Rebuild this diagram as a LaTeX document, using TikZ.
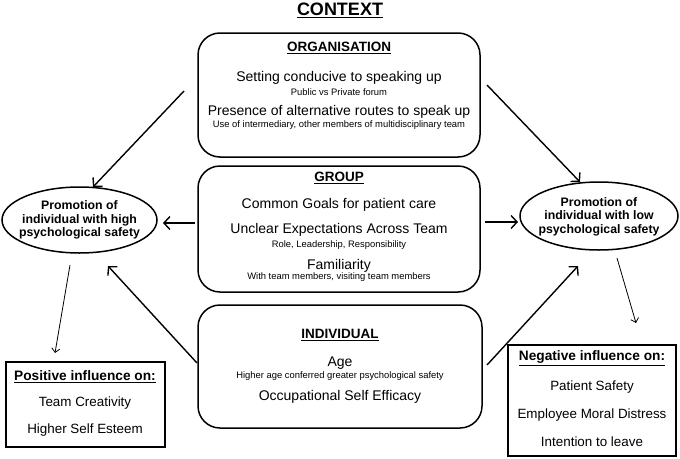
\documentclass[tikz,border=0pt]{standalone}
\usepackage{fontspec}
\setmainfont{Liberation Sans}
\usetikzlibrary{arrows.meta,shapes.geometric}
\begin{document}
\begin{tikzpicture}[x=1pt,y=-1pt,
  rbox/.style={draw,line width=1.5pt,rounded corners=22pt,inner sep=0pt},
  obox/.style={draw,line width=1.7pt,inner sep=0pt},
  oval/.style={draw,ellipse,line width=1.5pt,inner sep=0pt},
  big/.style={inner sep=0pt,font=\fontsize{14}{15}\selectfont},
  small/.style={inner sep=0pt,font=\fontsize{9.4}{10}\selectfont},
  head/.style={inner sep=0pt,font=\fontsize{13.5}{15}\bfseries\selectfont},
  ovtext/.style={inner sep=0pt,align=center,font=\fontsize{12.3}{13.6}\bfseries\selectfont},
  item/.style={inner sep=0pt,font=\fontsize{13.4}{15}\selectfont},
  arr/.style={line width=1.4pt,-{Straight Barb[length=6pt,width=13pt,line width=1.4pt]}},
  tarr/.style={line width=0.8pt,-{Straight Barb[length=4pt,width=8pt,line width=0.8pt]}}
]
\useasboundingbox (0,0) rectangle (680,458);

\node[inner sep=0pt,font=\fontsize{18}{20}\bfseries\selectfont] (title) at (340,10) {\underline{CONTEXT}};

% central boxes
\node[rbox,minimum width=282pt,minimum height=124pt] (org) at (339,95) {};
\node[rbox,minimum width=282pt,minimum height=126pt] (grp) at (339,229) {};
\node[rbox,minimum width=284pt,minimum height=123pt] (ind) at (340,366.5) {};

\node[head] (orgh) at (339,48) {\underline{ORGANISATION}};
\node[big] (o1) at (339,78) {Setting conducive to speaking up};
\node[small] (o1s) at (339,92) {Public vs Private forum};
\node[big] (o2) at (339,112) {Presence of alternative routes to speak up};
\node[small] (o2s) at (339,125.5) {Use of intermediary, other members of multidisciplinary team};

\node[head] (grph) at (339,178) {\underline{GROUP}};
\node[big] (g1) at (339,205) {Common Goals for patient care};
\node[big] (g2) at (339,230) {Unclear Expectations Across Team};
\node[small] (g2s) at (339,245) {Role, Leadership, Responsibility};
\node[big] (g3) at (339,266) {Familiarity};
\node[small] (g3s) at (339,277.5) {With team members, visiting team members};

\node[head] (indh) at (340,335) {\underline{INDIVIDUAL}};
\node[big] (i1) at (340,363) {Age};
\node[small] (i1s) at (340,376) {Higher age conferred greater psychological safety};
\node[big] (i2) at (340,397) {Occupational Self Efficacy};

% ellipses
\node[oval,minimum width=155pt,minimum height=66pt] (high) at (79.5,220) {};
\node[ovtext] (hight) at (79.5,220) {Promotion of\\individual with high\\psychological safety};
\node[oval,minimum width=158pt,minimum height=68pt] (low) at (599,216) {};
\node[ovtext] (lowt) at (599,216.5) {Promotion of\\individual with low\\psychological safety};

% outcome boxes
\node[obox,minimum width=159pt,minimum height=85pt] (pos) at (85.5,404.5) {};
\node[head,font=\fontsize{13.7}{15}\bfseries\selectfont] (posh) at (85,377) {\underline{Positive influence on:}};
\node[item] (p1) at (85,403) {Team Creativity};
\node[item] (p2) at (85,430) {Higher Self Esteem};

\node[obox,minimum width=168pt,minimum height=111pt] (neg) at (592,400.5) {};
\node[head,font=\fontsize{13.7}{15}\bfseries\selectfont] (negh) at (592,358) {\underline{Negative influence on:}};
\node[item] (n1) at (592,387) {Patient Safety};
\node[item] (n2) at (592,415) {Employee Moral Distress};
\node[item] (n3) at (592,442) {Intention to leave};

% arrow end points
\coordinate (a1s) at (184,91);  \coordinate (a1e) at (93,187);
\coordinate (a2s) at (487,85);  \coordinate (a2e) at (580,182);
\coordinate (a3s) at (195,223); \coordinate (a3e) at (163,223);
\coordinate (a4s) at (485,222); \coordinate (a4e) at (518,222);
\coordinate (a5s) at (197,363); \coordinate (a5e) at (108,266);
\coordinate (a6s) at (487,365); \coordinate (a6e) at (578,266);
\coordinate (a7s) at (70,265);  \coordinate (a7e) at (55,353);
\coordinate (a8s) at (617,258); \coordinate (a8e) at (636,323);

\draw[arr] (a1s) -- (a1e);
\draw[arr] (a2s) -- (a2e);
\draw[arr] (a3s) -- (a3e);
\draw[arr] (a4s) -- (a4e);
\draw[arr] (a5s) -- (a5e);
\draw[arr] (a6s) -- (a6e);
\draw[tarr] (a7s) -- (a7e);
\draw[tarr] (a8s) -- (a8e);
\end{tikzpicture}
\end{document}
